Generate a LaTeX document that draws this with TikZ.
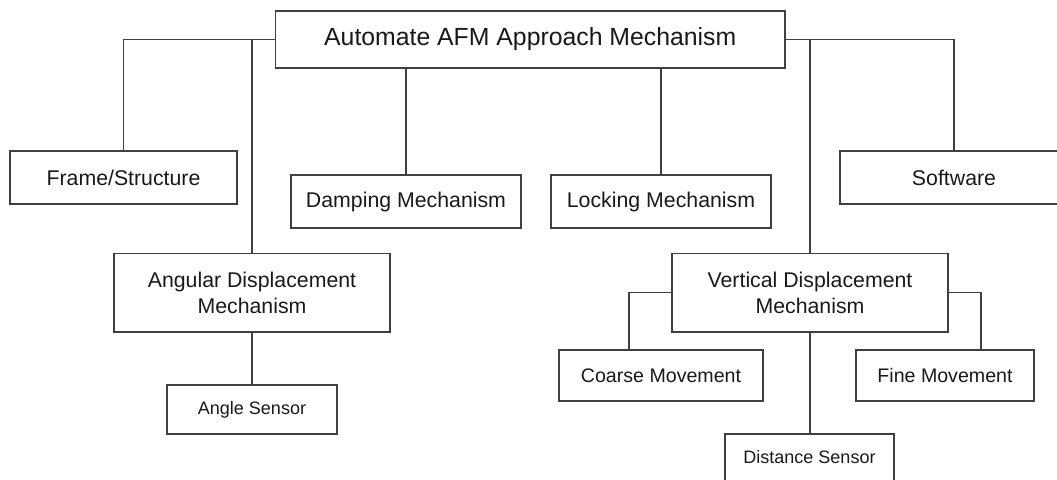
\documentclass[tikz,border=0pt]{standalone}
\usepackage{fontspec}
\setmainfont{Liberation Sans}
\begin{document}
\begin{tikzpicture}[x=1pt,y=-1pt,
  box/.style={draw=black!75,line width=1.2pt,inner sep=0pt,align=center,text=black!90},
  conn/.style={draw=black!75,line width=1.2pt},
  fmain/.style={font=\fontsize{21.3}{26}\selectfont},
  fsub/.style={font=\fontsize{19.6}{24}\selectfont},
  fsens/.style={font=\fontsize{18}{22}\selectfont}]
\useasboundingbox (0,0) rectangle (1057,479);
\clip (0,0) rectangle (1057,479);
\node[box,minimum width=509.5pt,minimum height=57pt,font=\fontsize{24.8}{30}\selectfont] (root) at (530.25,39.5) {Automate AFM Approach Mechanism};
\node[box,fmain,minimum width=227pt,minimum height=53pt] (frame) at (123.5,177.5) {Frame/Structure};
\node[box,fmain,minimum width=230pt,minimum height=53pt] (damp) at (406,201.5) {Damping Mechanism};
\node[box,fmain,minimum width=220pt,minimum height=53pt] (lock) at (661,201.5) {Locking Mechanism};
\node[box,fmain,minimum width=228pt,minimum height=53pt] (soft) at (954,177.5) {Software};
\node[box,fmain,minimum width=276pt,minimum height=78.5pt] (ang) at (252,292.75) {Angular Displacement\\Mechanism};
\node[box,fsens,minimum width=170pt,minimum height=49pt] (angs) at (252,409.5) {Angle Sensor};
\node[box,fmain,minimum width=276pt,minimum height=78.5pt] (vert) at (810,292.75) {Vertical Displacement\\Mechanism};
\node[box,fsub,minimum width=204pt,minimum height=51pt] (coarse) at (661,375.5) {Coarse Movement};
\node[box,fsub,minimum width=178pt,minimum height=51pt] (fine) at (945,375.5) {Fine Movement};
\node[box,fsens,minimum width=169pt,minimum height=49pt] (dist) at (809.5,458.5) {\raisebox{4pt}{Distance Sensor}};
\draw[conn] (root.west) -| (frame.north);
\draw[conn] (ang.north) |- (root.west);
\draw[conn] (damp.north) -- (damp.north |- root.south);
\draw[conn] (lock.north) -- (lock.north |- root.south);
\draw[conn] (root.east) -| (soft.north);
\draw[conn] (vert.north) |- (root.east);
\draw[conn] (ang.south) -- (angs.north);
\draw[conn] (vert.west) -| ([xshift=-32pt]coarse.north);
\draw[conn] (vert.east) -| ([xshift=36pt]fine.north);
\draw[conn] (vert.south) -- (vert.south |- dist.north);
\end{tikzpicture}
\end{document}
